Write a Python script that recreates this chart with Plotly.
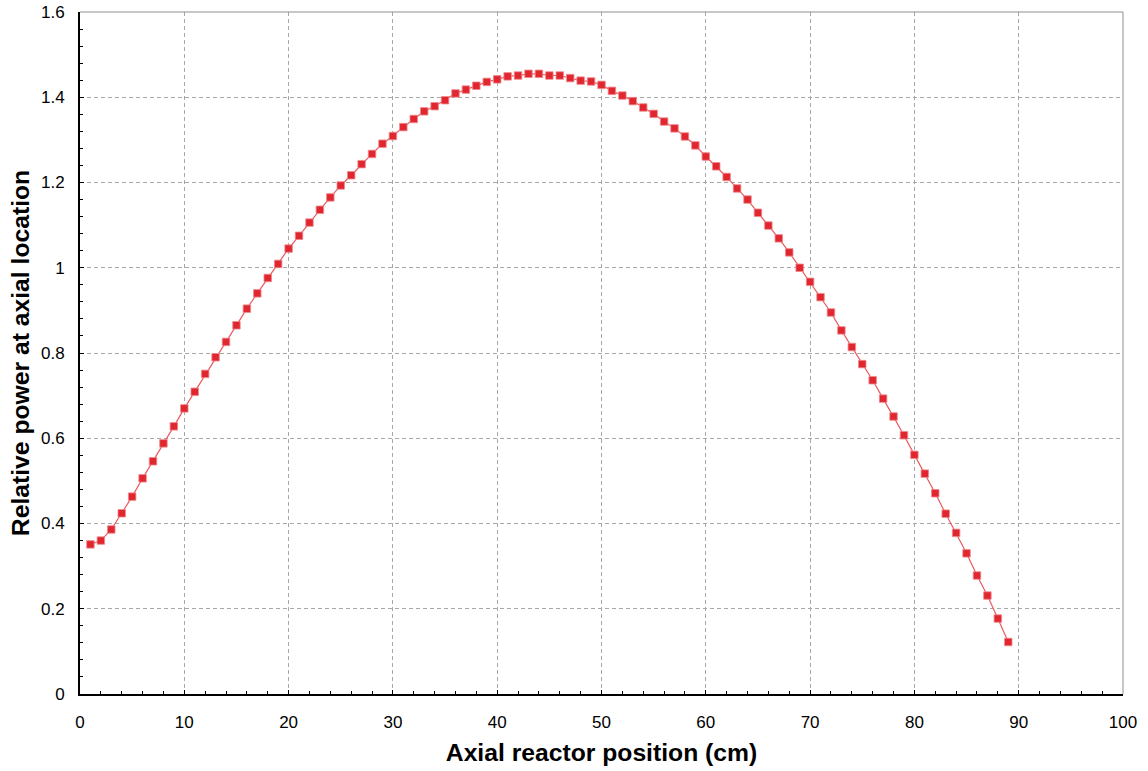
import plotly.graph_objects as go

positions = list(range(1, 90))
power = [
    0.351, 0.360, 0.386, 0.424, 0.463, 0.506, 0.546, 0.588, 0.628, 0.670,
    0.709, 0.751, 0.790, 0.826, 0.865, 0.904, 0.940, 0.976, 1.009, 1.045,
    1.075, 1.106, 1.136, 1.165, 1.193, 1.217, 1.243, 1.267, 1.291, 1.309,
    1.330, 1.349, 1.367, 1.379, 1.393, 1.409, 1.418, 1.427, 1.436, 1.442,
    1.449, 1.451, 1.455, 1.455, 1.451, 1.451, 1.445, 1.439, 1.437, 1.429,
    1.415, 1.404, 1.391, 1.376, 1.361, 1.343, 1.327, 1.308, 1.287, 1.261,
    1.238, 1.213, 1.186, 1.160, 1.129, 1.099, 1.069, 1.036, 1.000, 0.967,
    0.931, 0.895, 0.853, 0.814, 0.774, 0.736, 0.693, 0.651, 0.607, 0.561,
    0.517, 0.471, 0.423, 0.378, 0.330, 0.278, 0.231, 0.177, 0.122,
]

x_title = "Axial reactor position (cm)"
y_title = "Relative power at axial location"

fig = go.Figure()
fig.add_trace(go.Scatter(
    x=positions, y=power, mode="lines+markers",
    line=dict(color="#ea5a60", width=1.2),
    marker=dict(symbol="square", size=7.5, color="#e0262f",
                line=dict(color="#f08a8e", width=0.8)),
    showlegend=False,
))

font_family = "Liberation Sans, Arial, sans-serif"
fig.update_layout(
    width=1148, height=771,
    margin=dict(l=80, r=25, t=12, b=77),
    paper_bgcolor="white", plot_bgcolor="white",
    font=dict(family=font_family, color="black"),
    xaxis=dict(
        range=[0, 100], dtick=10, tick0=0, automargin=False,
        showgrid=True, gridcolor="#a8a8a8", griddash="4px,3px", gridwidth=1,
        showline=True, linecolor="black", linewidth=2,
        ticks="inside", ticklen=4, tickcolor="black",
        minor=dict(dtick=2, ticks="inside", ticklen=3, tickcolor="black", showgrid=False),
        tickfont=dict(size=17), ticklabelstandoff=12, ticklabeloverflow="allow",
        zeroline=False,
        title=dict(text=x_title, font=dict(size=24.7, family=font_family, weight="bold"), standoff=12),
    ),
    yaxis=dict(
        range=[0, 1.6], dtick=0.2, tick0=0, automargin=False,
        showgrid=True, gridcolor="#a8a8a8", griddash="4px,3px", gridwidth=1,
        showline=True, linecolor="black", linewidth=2,
        ticks="inside", ticklen=4, tickcolor="black",
        minor=dict(dtick=0.04, ticks="inside", ticklen=3, tickcolor="black", showgrid=False),
        tickfont=dict(size=17), ticklabelstandoff=10, ticklabeloverflow="allow",
        zeroline=False,
        title=dict(text=y_title, font=dict(size=24.7, family=font_family, weight="bold"), standoff=4),
    ),
    shapes=[
        dict(type="line", xref="paper", yref="paper", x0=0, x1=1, y0=1, y1=1,
             line=dict(color="#909090", width=1)),
        dict(type="line", xref="paper", yref="paper", x0=1, x1=1, y0=0, y1=1,
             line=dict(color="#909090", width=1)),
    ],
)

fig.write_html("out.html", config={"displayModeBar": False},
               post_script="document.body.style.margin='0';document.body.style.overflow='hidden';")
